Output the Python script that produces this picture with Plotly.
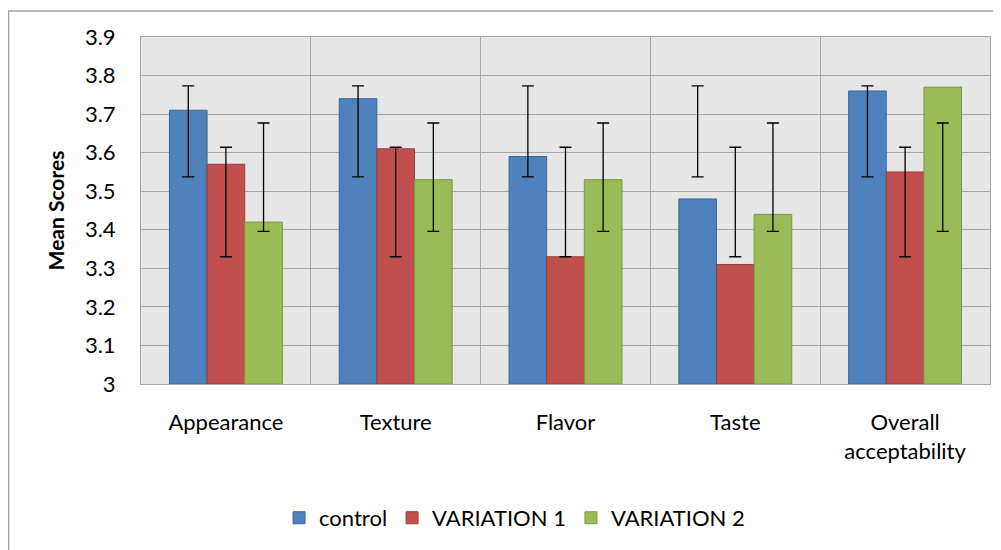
import plotly.graph_objects as go

categories = ["Appearance", "Texture", "Flavor", "Taste", "Overall<br>acceptability"]
series_names = ["control", "VARIATION 1", "VARIATION 2"]

control = [3.71, 3.74, 3.59, 3.48, 3.76]
variation1 = [3.57, 3.61, 3.33, 3.31, 3.55]
variation2 = [3.42, 3.53, 3.53, 3.44, 3.77]

# error bar extents (absolute low / high) per series
control_err_low = [3.537, 3.537, 3.537, 3.537, 3.537]
control_err_high = [3.773, 3.773, 3.773, 3.773, 3.773]
v1_err_low = [3.33, 3.33, 3.33, 3.33, 3.33]
v1_err_high = [3.614, 3.614, 3.614, 3.614, 3.614]
v2_err_low = [3.396, 3.396, 3.396, 3.396, 3.396]
v2_err_high = [3.677, 3.677, 3.677, 3.677, 3.677]

y_ticks = [3, 3.1, 3.2, 3.3, 3.4, 3.5, 3.6, 3.7, 3.8, 3.9]
y_base = 3

colors = ["#4f81bd", "#c0504d", "#9bbb59"]
edge_colors = ["#3c6799", "#9c3d3a", "#7a9a45"]

values = [control, variation1, variation2]
lows = [control_err_low, v1_err_low, v2_err_low]
highs = [control_err_high, v1_err_high, v2_err_high]

FONT = "Lato"
FS = 22

fig = go.Figure()
for name, vals, lo, hi, c, ec in zip(series_names, values, lows, highs, colors, edge_colors):
    fig.add_trace(go.Bar(
        name=name,
        x=categories,
        y=[v - y_base for v in vals],
        base=y_base,
        marker=dict(color=c, line=dict(color=ec, width=1)),
        error_y=dict(
            type="data",
            symmetric=False,
            array=[h - v for h, v in zip(hi, vals)],
            arrayminus=[v - l for v, l in zip(vals, lo)],
            color="black",
            thickness=1.3,
            width=6,
        ),
    ))

# page body adds an 8px offset at top/left; figure is sized to compensate
W, H = 993, 542
L, R, T, B = 133, 11, 29, 166
pw = W - L - R
ph = H - T - B

fig.update_layout(
    width=W,
    height=H,
    autosize=False,
    barmode="group",
    bargap=0.335,
    bargroupgap=0,
    paper_bgcolor="white",
    plot_bgcolor="#e6e6e6",
    margin=dict(l=L, r=R, t=T, b=B, autoexpand=False),
    font=dict(family=FONT, size=FS, color="black"),
    showlegend=True,
    legend=dict(
        orientation="h",
        x=0.44,
        xanchor="center",
        y=-0.386,
        yanchor="middle",
        font=dict(family=FONT, size=FS, color="black"),
        itemwidth=30,
        traceorder="normal",
        bgcolor="rgba(0,0,0,0)",
    ),
    xaxis=dict(
        type="category",
        tickson="boundaries",
        showgrid=True,
        gridcolor="#a6a6a6",
        gridwidth=1,
        showline=True,
        linecolor="#a6a6a6",
        linewidth=1,
        mirror=True,
        ticks="",
        automargin=False,
        ticklabelstandoff=19,
        tickfont=dict(family=FONT, size=FS, color="black"),
    ),
    yaxis=dict(
        range=[3, 3.9],
        tickvals=y_ticks,
        ticktext=[f"{t:g}" for t in y_ticks],
        showgrid=True,
        gridcolor="#a6a6a6",
        gridwidth=1,
        showline=True,
        linecolor="#a6a6a6",
        linewidth=1,
        mirror=True,
        ticks="",
        zeroline=False,
        automargin=False,
        ticklabelstandoff=20,
        tickfont=dict(family=FONT, size=FS, color="black"),
        title=dict(text="<b>Mean Scores</b>", font=dict(family=FONT, size=21, color="black"), standoff=14),
    ),
    shapes=[
        # outer chart frame: top and left edges
        dict(type="line", xref="paper", yref="paper",
             x0=(0 - L) / pw, x1=(W - L) / pw,
             y0=1 + (T - 3) / ph, y1=1 + (T - 3) / ph,
             line=dict(color="#a0a0a0", width=1.5)),
        dict(type="line", xref="paper", yref="paper",
             x0=(0.5 - L) / pw, x1=(0.5 - L) / pw,
             y0=1 + (T - 3) / ph, y1=-(B) / ph,
             line=dict(color="#a0a0a0", width=1.5)),
    ],
)

fig.write_html("out.html")
